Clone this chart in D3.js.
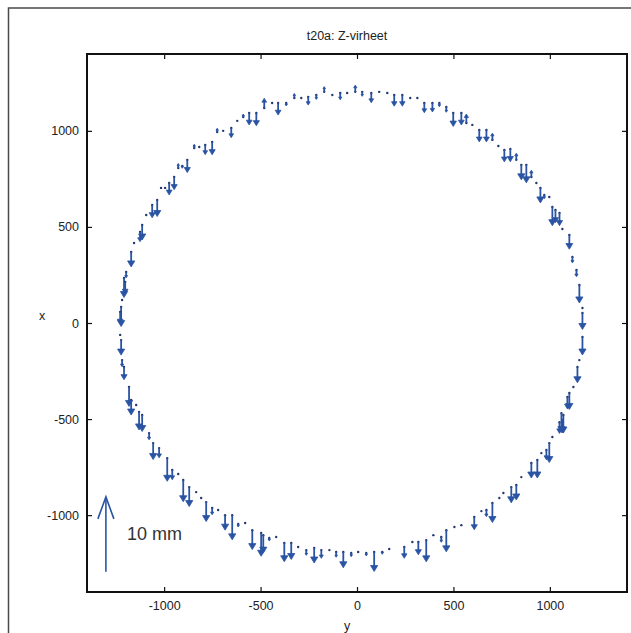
<!DOCTYPE html>
<html>
<head>
<meta charset="utf-8">
<script src="https://cdn.jsdelivr.net/npm/d3@7"></script>
<style>
  body { margin: 0; background: #fff; }
  svg { display: block; font-family: "Liberation Sans", Arial, sans-serif; }
</style>
</head>
<body>
<svg id="chart" width="631" height="633"></svg>
<script>
const title = "t20a: Z-virheet";
const tickValues = [-1000, -500, 0, 500, 1000];
const axisLabelX = "x";
const axisLabelY = "y";

// measurement points (horizontal = y, vertical = x) and Z error in mm
const pointY = [-9,-51,-87,-128,-170,-211,-253,-289,-325,-367,
  -409,-440,-481,-522,-559,-590,-621,-652,-694,-725,
  -751,-787,-818,-844,-880,-906,-927,-948,-974,-995,
  -1016,-1036,-1062,-1093,-1114,-1125,-1156,-1171,-1197,-1208,
  -1202,-1218,-1223,-1228,-1228,-1223,-1218,-1208,-1182,-1171,
  -1145,-1130,-1114,-1078,-1057,-1026,-984,-958,-927,-901,
  -870,-834,-808,-782,-751,-720,-684,-647,-616,-580,
  -543,-497,-486,-455,-419,-377,-341,-305,-263,-222,
  -185,-143,-108,-71,-30,6,48,89,131,167,
  245,287,318,359,396,437,463,505,541,608,
  645,671,702,738,759,800,826,852,904,935,
  956,982,997,1013,1050,1065,1060,1070,1101,1091,
  1122,1143,1153,1169,1169,1169,1153,1138,1117,1101,
  1065,1013,1029,1050,997,971,951,930,904,878,
  852,826,795,764,733,702,671,634,598,567,
  541,499,463,427,391,349,313,276,235,193,
  157,115,74,27];
const pointX = [1203,1197,1197,1187,1203,1187,1177,1171,1171,1145,
  1145,1145,1119,1093,1093,1072,1052,1015,1000,994,
  942,927,916,911,849,817,807,760,729,703,
  703,640,614,562,510,474,416,370,266,234,
  213,120,83,57,-62,-89,-193,-229,-333,-401,
  -427,-463,-479,-573,-625,-651,-703,-765,-786,-817,
  -854,-880,-911,-932,-963,-973,-1000,-1000,-1046,-1041,
  -1078,-1093,-1104,-1119,-1114,-1145,-1145,-1166,-1182,-1171,
  -1182,-1182,-1192,-1192,-1197,-1192,-1197,-1192,-1192,-1176,
  -1166,-1140,-1140,-1130,-1104,-1114,-1078,-1062,-1052,-1010,
  -979,-973,-937,-911,-885,-854,-843,-802,-729,-713,
  -677,-661,-625,-593,-516,-505,-469,-479,-364,-385,
  -333,-229,-193,-73,52,78,198,276,344,458,
  489,604,588,573,656,666,703,729,760,823,
  823,849,906,901,921,953,1005,1005,1031,1041,
  1093,1093,1124,1145,1145,1145,1171,1171,1187,1187,
  1197,1203,1197,1203];
const dz = [0.9,0,-0.9,0,0.7,-0.6,-1.1,0,0.6,-0.4,
  -1.6,0,1.3,-1.7,-1.6,0.4,0,-1.3,0,0.5,
  -1.7,-1.3,0,0.5,-1.7,-0.3,0.6,-1.7,-1.6,0,
  0,-2.2,-1.7,0,-2.0,-1.3,0,-2.0,-0.8,-2.6,
  -1.6,0,-2.6,-1.6,0,-2.0,-0.9,-1.7,-2.6,-2.0,
  0,-2.4,-2.2,-0.9,-2.2,-1.3,-3.1,-1.3,0,-2.9,
  -2.6,0,0,-2.6,-0.9,0,-2.0,-3.3,-0.4,0,
  -2.6,-3.1,-2.4,-0.4,0,-2.5,-2.2,0,-0.7,-2.0,
  -1.1,0,-0.7,-2.1,-0.5,0,-0.4,-2.6,-0.3,0,
  -1.5,0,-1.7,-2.9,0,-0.7,-2.9,0,0,-1.7,
  0,-0.9,-2.6,0,0,-2.1,-2.0,0,-2.0,-2.4,
  0,-1.3,-2.6,0,-1.5,-1.7,-2.6,-2.4,-2.2,-1.6,
  0,-2.1,0,-2.4,-2.2,0,-2.4,-0.9,-0.8,-1.9,
  0,-2.5,-1.7,-1.7,0,-0.5,-2.0,0,0.9,-2.4,
  -2.0,0.9,-1.7,-1.6,0,0.9,-1.6,-1.6,0,1.2,
  -1.6,-1.8,-0.7,-0.5,-1.2,-1.3,0,0,-1.5,-1.5,
  0,0,-1.3,-0.6];

// scale arrow: 10 mm drawn at (y, x) = (-1302, -1295)
const legendMm = 10;
const legendAt = [-1302, -1295];
const unitsPerMm = 39;   // plot units per mm of error

const arrowColor = "#2a54a3";
const svg = d3.select("#chart");

const xs = d3.scaleLinear().domain([-1400, 1400]).range([87, 627]);
const ys = d3.scaleLinear().domain([-1400, 1400]).range([592, 54]);
const plainFmt = d => String(d);   // "-1000", no thousands comma

// outer figure frame
svg.append("rect")
  .attr("x", 8.5).attr("y", 8)
  .attr("width", 700).attr("height", 700)
  .attr("fill", "none").attr("stroke", "#4a4a4a").attr("stroke-width", 1.5);

svg.append("text")
  .attr("x", 347).attr("y", 40)
  .attr("text-anchor", "middle")
  .attr("font-size", 12.5).attr("fill", "#222")
  .text(title);

// axes, ticks pointing inward
const styleAxis = g => {
  g.select(".domain").remove();
  g.selectAll(".tick line").attr("stroke", "#111").attr("stroke-width", 1.2);
  g.selectAll(".tick text").attr("font-size", 12.5).attr("fill", "#222")
    .attr("font-family", "Liberation Sans, Arial, sans-serif");
};

svg.append("g").attr("transform", "translate(0,592)")
  .call(d3.axisBottom(xs).tickValues(tickValues).tickFormat(plainFmt)
    .tickSizeInner(-5).tickSizeOuter(0).tickPadding(9))
  .call(styleAxis);
svg.append("g").attr("transform", "translate(87,0)")
  .call(d3.axisLeft(ys).tickValues(tickValues).tickFormat(plainFmt)
    .tickSizeInner(-5).tickSizeOuter(0).tickPadding(8))
  .call(styleAxis);
svg.append("g").attr("transform", "translate(0,54)")
  .call(d3.axisTop(xs).tickValues(tickValues).tickSizeInner(-5).tickSizeOuter(0).tickFormat(""))
  .call(styleAxis);
svg.append("g").attr("transform", "translate(627,0)")
  .call(d3.axisRight(ys).tickValues(tickValues).tickSizeInner(-5).tickSizeOuter(0).tickFormat(""))
  .call(styleAxis);

svg.append("rect")
  .attr("x", 87).attr("y", 54)
  .attr("width", 540).attr("height", 538)
  .attr("fill", "none").attr("stroke", "#111").attr("stroke-width", 2);

svg.append("text").attr("x", 42).attr("y", 320)
  .attr("text-anchor", "middle").attr("font-size", 12.5).attr("fill", "#222")
  .text(axisLabelX);
svg.append("text").attr("x", 347).attr("y", 630)
  .attr("text-anchor", "middle").attr("font-size", 12.5).attr("fill", "#222")
  .text(axisLabelY);

// quiver
const pts = pointY.map((py, i) => ({ y: py, x: pointX[i], d: dz[i] }));
const arrows = svg.append("g").attr("class", "arrows");

pts.forEach(p => {
  const cx = xs(p.y);
  const y0 = ys(p.x);
  const y1 = ys(p.x + p.d * unitsPerMm);
  const len = Math.abs(y1 - y0);
  arrows.append("circle")
    .attr("cx", cx).attr("cy", y0).attr("r", 1.2)
    .attr("fill", "#24386e");
  if (len < 0.5) return;
  const dir = y1 > y0 ? 1 : -1;
  const h = Math.min(6, Math.max(2, len * 0.4));
  const w = h * 0.6;
  arrows.append("line")
    .attr("x1", cx).attr("x2", cx)
    .attr("y1", y0).attr("y2", y1 - dir * h * 0.5)
    .attr("stroke", arrowColor).attr("stroke-width", 1.8);
  arrows.append("path")
    .attr("d", `M${cx - w},${y1 - dir * h}L${cx},${y1}L${cx + w},${y1 - dir * h}Z`)
    .attr("fill", arrowColor).attr("stroke", arrowColor).attr("stroke-width", 0.8);
});

// legend arrow
const lx = xs(legendAt[0]);
const lb = ys(legendAt[1]);
const lt = ys(legendAt[1] + legendMm * unitsPerMm);
svg.append("line")
  .attr("x1", lx).attr("x2", lx).attr("y1", lb).attr("y2", lt)
  .attr("stroke", arrowColor).attr("stroke-width", 1.6);
svg.append("path")
  .attr("d", `M${lx - 8},${lt + 22}L${lx},${lt}L${lx + 8},${lt + 22}`)
  .attr("fill", "none").attr("stroke", arrowColor).attr("stroke-width", 1.6);
svg.append("text")
  .attr("x", 127).attr("y", 540)
  .attr("font-size", 18).attr("fill", "#333")
  .text(legendMm + " mm");
</script>
</body>
</html>
